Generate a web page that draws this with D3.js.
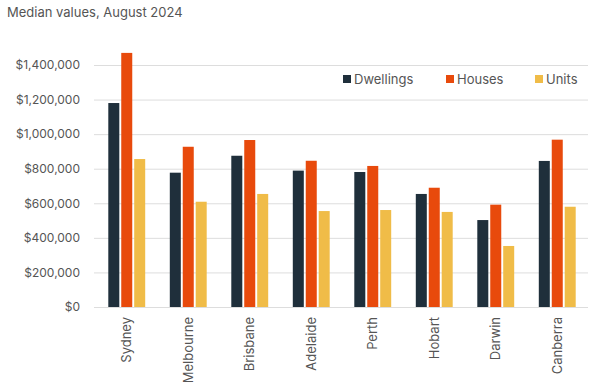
<!DOCTYPE html>
<html>
<head>
<meta charset="utf-8">
<script src="https://cdn.jsdelivr.net/npm/d3@7"></script>
<style>
  body { margin: 0; background: #fff; }
  text { font-family: Inter, "Open Sans", sans-serif; fill: #555; }
</style>
</head>
<body>
<div id="chart"></div>
<script>
const w = 598
const h = 392

const cities = ['Sydney', 'Melbourne', 'Brisbane', 'Adelaide', 'Perth', 'Hobart', 'Darwin', 'Canberra']
const seriesNames = ['Dwellings', 'Houses', 'Units']
const dwellings = [1180000, 777000, 875000, 789000, 781000, 654000, 503000, 845000]
const houses = [1470000, 927000, 966000, 846000, 816000, 690000, 592000, 968000]
const units = [856000, 609000, 654000, 555000, 561000, 550000, 353000, 580000]
const yTicks = [0, 200000, 400000, 600000, 800000, 1000000, 1200000, 1400000]
const colors = ['#1f2f3b', '#e84a0c', '#f0bc48']

const values = [dwellings, houses, units]
const rows = cities.map((c, i) => ({ city: c, vals: values.map(s => s[i]) }))

const margin = { top: 65, right: 10, bottom: 85, left: 96 }

const svg = d3.select('#chart').append('svg')
  .attr('width', w)
  .attr('height', h)

svg.append('text')
  .attr('x', 7)
  .attr('y', 17)
  .style('font-size', '13px')
  .text('Median values, August 2024')

const x = d3.scaleBand()
  .domain(cities)
  .range([margin.left, w - margin.right])
  .paddingInner(0.4)
  .paddingOuter(0.2)

const x1 = d3.scaleBand()
  .domain(seriesNames)
  .range([0, x.bandwidth()])
  .paddingInner(0.15)

const y = d3.scaleLinear()
  .domain([0, 1400000])
  .range([h - margin.bottom, margin.top])

const yAxis = d3.axisLeft(y)
  .tickValues(yTicks)
  .tickSize(-(w - margin.right - margin.left + 2))
  .tickPadding(14)
  .tickFormat(d => '$' + d3.format(',')(d))

const $yAxis = svg.append('g')
  .attr('transform', `translate(${margin.left - 2}, 0)`)
  .call(yAxis)
$yAxis.select('.domain').remove()
$yAxis.selectAll('line').attr('stroke', '#ddd')
$yAxis.selectAll('text').style('font-size', '12px').attr('fill', '#555')

const groups = svg.append('g').selectAll('g')
  .data(rows)
  .join('g')
  .attr('transform', d => `translate(${x(d.city)}, 0)`)

groups.selectAll('rect')
  .data(d => d.vals.map((v, i) => ({ key: seriesNames[i], v, i })))
  .join('rect')
  .attr('x', d => x1(d.key))
  .attr('width', x1.bandwidth())
  .attr('y', d => y(d.v))
  .attr('height', d => y(0) - y(d.v))
  .attr('fill', d => colors[d.i])

const xAxis = d3.axisBottom(x).tickSize(0).tickPadding(10)
const $xAxis = svg.append('g')
  .attr('transform', `translate(0, ${h - margin.bottom})`)
  .call(xAxis)
$xAxis.select('.domain').remove()
$xAxis.selectAll('text')
  .style('font-size', '13px')
  .attr('fill', '#555')
  .attr('transform', 'rotate(-90)')
  .attr('x', -10)
  .attr('y', 0)
  .attr('dy', '0.35em')
  .style('text-anchor', 'end')

const legendX = [343, 446, 535]
const legend = svg.append('g').selectAll('g')
  .data(seriesNames)
  .join('g')
  .attr('transform', (d, i) => `translate(${legendX[i]}, 79)`)
legend.append('rect')
  .attr('x', 0)
  .attr('y', -4)
  .attr('width', 8)
  .attr('height', 8)
  .attr('fill', (d, i) => colors[i])
legend.append('text')
  .attr('x', 11)
  .attr('dy', '0.35em')
  .style('font-size', '13px')
  .attr('fill', '#333')
  .text(d => d)
</script>
</body>
</html>
